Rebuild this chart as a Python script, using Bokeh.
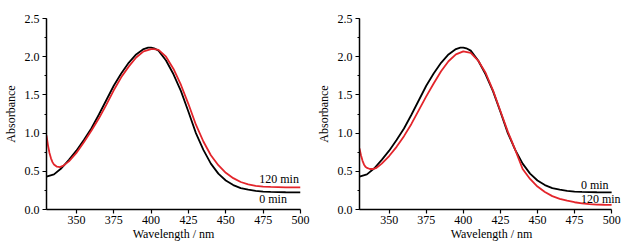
from bokeh.plotting import figure
from bokeh.layouts import row
from bokeh.models import SingleIntervalTicker, PrintfTickFormatter, Range1d, Label
from bokeh.embed import file_html
from bokeh.resources import INLINE

# 0 min spectrum (same sample in both panels)
wl_0min = [330, 335, 340, 345, 350, 355, 360, 365, 370, 375, 380, 385, 390, 395, 398,
           400, 402, 405, 410, 415, 420, 425, 430, 435, 440, 445, 450, 455, 460, 465,
           470, 475, 480, 485, 490, 495, 500]
abs_0min = [0.43, 0.46, 0.54, 0.65, 0.77, 0.91, 1.06, 1.24, 1.43, 1.62, 1.78, 1.92, 2.03,
            2.10, 2.12, 2.12, 2.11, 2.08, 1.95, 1.77, 1.55, 1.28, 1.00, 0.78, 0.60, 0.47,
            0.38, 0.32, 0.28, 0.26, 0.245, 0.235, 0.23, 0.228, 0.226, 0.225, 0.225]

# left panel, 120 min
wl_left_120 = [330, 331, 332, 333, 334, 335, 337, 339, 341, 343, 345, 350, 355, 360, 365,
               370, 375, 380, 385, 390, 395, 400, 402, 405, 410, 415, 420, 425, 430, 435,
               440, 445, 450, 455, 460, 465, 470, 475, 480, 490, 500]
abs_left_120 = [0.97, 0.84, 0.74, 0.67, 0.62, 0.59, 0.56, 0.555, 0.57, 0.60, 0.63, 0.74,
                0.88, 1.03, 1.19, 1.37, 1.56, 1.73, 1.87, 1.99, 2.07, 2.10, 2.10, 2.09,
                2.00, 1.84, 1.63, 1.38, 1.11, 0.89, 0.71, 0.58, 0.48, 0.41, 0.36, 0.33,
                0.31, 0.30, 0.295, 0.29, 0.29]

# right panel, 120 min
wl_right_120 = [330, 331, 332, 333, 334, 335, 337, 339, 341, 343, 345, 350, 355, 360, 365,
                370, 375, 380, 385, 390, 395, 400, 405, 410, 415, 420, 425, 430, 435, 440,
                445, 450, 455, 460, 465, 470, 475, 480, 485, 490, 495, 500]
abs_right_120 = [0.80, 0.71, 0.64, 0.59, 0.56, 0.545, 0.53, 0.53, 0.54, 0.57, 0.60, 0.70,
                 0.82, 0.96, 1.12, 1.30, 1.48, 1.65, 1.81, 1.94, 2.03, 2.07, 2.05, 1.95,
                 1.79, 1.56, 1.29, 1.02, 0.78, 0.53, 0.40, 0.30, 0.23, 0.175, 0.14, 0.115,
                 0.095, 0.08, 0.07, 0.065, 0.062, 0.06]

FONT = "Liberation Serif"
RED = "#e3252b"


def make_panel(red_x, red_y, labels, border_left, border_right, x_end):
    p = figure(width=313, height=249, output_backend="svg", toolbar_location=None,
               x_range=Range1d(330, x_end), y_range=Range1d(0, 2.5),
               min_border_left=border_left, min_border_right=border_right,
               min_border_top=18, min_border_bottom=40)
    p.outline_line_color = None
    p.background_fill_color = "white"
    p.border_fill_color = "white"
    p.xgrid.visible = False
    p.ygrid.visible = False

    p.line(wl_0min, abs_0min, line_color="black", line_width=1.8)
    p.line(red_x, red_y, line_color=RED, line_width=1.8)

    xa = p.xaxis[0]
    xa.ticker = SingleIntervalTicker(interval=25, num_minor_ticks=0)
    xa.bounds = (330, 500)
    xa.axis_label = "Wavelength / nm"
    ya = p.yaxis[0]
    ya.ticker = SingleIntervalTicker(interval=0.5, num_minor_ticks=2)
    ya.formatter = PrintfTickFormatter(format="%.1f")
    ya.axis_label = "Absorbance"
    for ax in (xa, ya):
        ax.axis_line_width = 1.5
        ax.axis_line_color = "black"
        ax.major_tick_line_color = "black"
        ax.major_tick_line_width = 1.2
        ax.major_tick_out = 4
        ax.major_tick_in = 0
        ax.minor_tick_out = 2
        ax.minor_tick_in = 0
        ax.minor_tick_line_color = "black"
        ax.major_label_text_font = FONT
        ax.major_label_text_font_size = "12px"
        ax.major_label_text_color = "black"
        ax.axis_label_text_font = FONT
        ax.axis_label_text_font_size = "12px"
        ax.axis_label_text_font_style = "normal"
        ax.axis_label_text_color = "black"
    xa.minor_tick_line_color = None
    xa.major_label_standoff = 2
    xa.axis_label_standoff = 0
    ya.major_label_standoff = 3
    ya.axis_label_standoff = 4

    for (tx, ty, txt) in labels:
        p.add_layout(Label(x=tx, y=ty, text=txt, text_align="left", text_baseline="middle",
                           text_font=FONT, text_font_size="12px", text_color="black"))
    return p


# left: frame 42..300 px for 330..500 nm
p1 = make_panel(wl_left_120, abs_left_120,
                [(472.4, 0.40, "120 min"), (472.4, 0.135, "0 min")], 42, 13, 500)
# right: frame extended past 500 nm so the "120 min" label is not clipped
p2 = make_panel(wl_right_120, abs_right_120,
                [(479.3, 0.32, "0 min"), (479.3, 0.135, "120 min")], 41, 3, 508)

layout = row(p1, p2)
open("out.html", "w").write(file_html(layout, INLINE))
